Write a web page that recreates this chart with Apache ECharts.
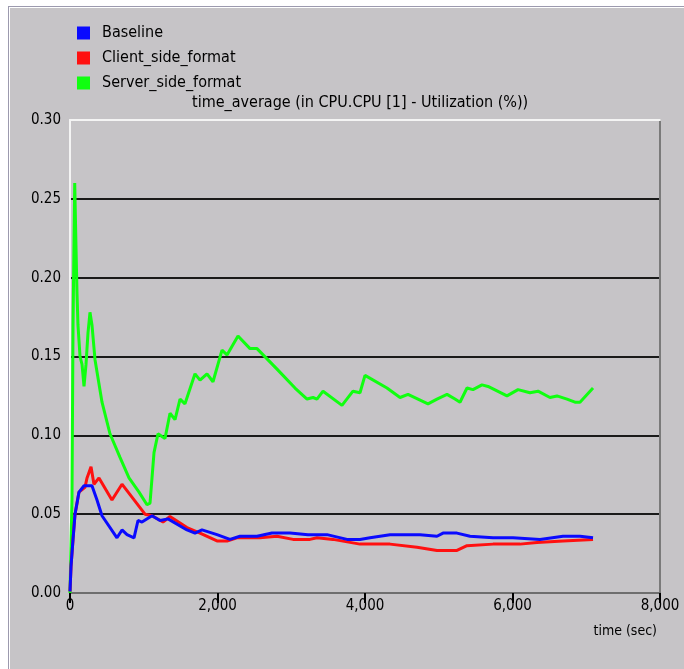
<!DOCTYPE html>
<html>
<head>
<meta charset="utf-8">
<script src="https://cdn.jsdelivr.net/npm/echarts@6/dist/echarts.min.js"></script>
<style>
  html, body { margin: 0; padding: 0; background: #ffffff; }
  #frame {
    position: absolute; left: 8px; top: 6px; width: 676px; height: 663px;
    background: #c6c4c7;
    border-left: 1px solid #9c9aae; border-top: 1px solid #9c9aae;
    box-shadow: inset 1px 1px 0 #ffffff;
  }
  #chart { width: 675px; height: 662px; }
</style>
</head>
<body>
<div id="frame"><div id="chart"></div></div>
<script>
// tick labels / axis ranges
var yTicks = [0, 0.05, 0.10, 0.15, 0.20, 0.25, 0.30];
var xTicks = [0, 2000, 4000, 6000, 8000];

// series names
var seriesNames = ["Baseline", "Client_side_format", "Server_side_format"];

// Baseline
var baselineTime = [0, 14, 41, 68, 122, 190, 298, 366, 434, 637, 705, 773, 868, 922, 976, 1112, 1220, 1329, 1586, 1695, 1790, 1993, 2169, 2305, 2536, 2739, 2983, 3227, 3485, 3756, 3932, 4068, 4339, 4746, 4976, 5058, 5247, 5424, 5736, 6007, 6373, 6685, 6915, 7092];
var baselineValue = [0.001, 0.017, 0.034, 0.050, 0.064, 0.068, 0.068, 0.059, 0.049, 0.035, 0.040, 0.037, 0.035, 0.046, 0.045, 0.049, 0.046, 0.047, 0.040, 0.038, 0.040, 0.037, 0.034, 0.036, 0.036, 0.038, 0.038, 0.037, 0.037, 0.034, 0.034, 0.035, 0.037, 0.037, 0.036, 0.038, 0.038, 0.036, 0.035, 0.035, 0.034, 0.036, 0.036, 0.035];

// Client_side_format
var clientTime = [0, 14, 41, 68, 122, 203, 231, 285, 325, 393, 569, 705, 1017, 1112, 1261, 1356, 1586, 1763, 1993, 2129, 2264, 2576, 2807, 3024, 3254, 3349, 3566, 3932, 4339, 4705, 4976, 5112, 5247, 5383, 5736, 6102, 6332, 6685, 7092];
var clientValue = [0.001, 0.017, 0.034, 0.050, 0.064, 0.067, 0.073, 0.080, 0.069, 0.073, 0.059, 0.069, 0.050, 0.049, 0.045, 0.0485, 0.0415, 0.038, 0.033, 0.033, 0.035, 0.035, 0.036, 0.034, 0.034, 0.035, 0.034, 0.031, 0.031, 0.029, 0.027, 0.027, 0.027, 0.030, 0.031, 0.031, 0.032, 0.033, 0.034];

// Server_side_format
var serverTime = [0, 27, 41, 64, 81, 95, 108, 136, 163, 190, 217, 244, 271, 298, 339, 434, 542, 678, 800, 936, 1044, 1085, 1139, 1193, 1288, 1356, 1424, 1492, 1559, 1695, 1763, 1858, 1939, 2061, 2129, 2278, 2441, 2536, 2807, 3051, 3214, 3295, 3349, 3431, 3688, 3837, 3932, 4000, 4298, 4475, 4583, 4854, 4976, 5112, 5220, 5288, 5383, 5464, 5586, 5668, 5925, 6075, 6237, 6346, 6508, 6603, 6739, 6847, 6915, 7092];
var serverValue = [0.000, 0.060, 0.170, 0.260, 0.220, 0.190, 0.170, 0.150, 0.145, 0.131, 0.145, 0.165, 0.178, 0.170, 0.148, 0.121, 0.101, 0.086, 0.073, 0.064, 0.056, 0.057, 0.089, 0.101, 0.098, 0.114, 0.110, 0.123, 0.120, 0.139, 0.135, 0.139, 0.134, 0.154, 0.151, 0.163, 0.155, 0.155, 0.142, 0.130, 0.123, 0.124, 0.123, 0.128, 0.119, 0.128, 0.127, 0.138, 0.130, 0.124, 0.126, 0.120, 0.123, 0.126, 0.123, 0.121, 0.130, 0.129, 0.132, 0.131, 0.125, 0.129, 0.127, 0.128, 0.124, 0.125, 0.123, 0.121, 0.121, 0.130];

var colors = ["#0a0aff", "#ff1010", "#10ff10"];

function pairs(ts, vs) {
  return ts.map(function (t, i) { return [t, vs[i]]; });
}

var FONT = "'Liberation Sans Narrow', 'DejaVu Sans Condensed', 'Liberation Sans', sans-serif";

var myChart = echarts.init(document.getElementById("chart"));

var option = {
  animation: false,
  textStyle: { fontFamily: FONT },
  title: [
    {
      text: "time_average (in CPU.CPU [1] - Utilization (%))",
      left: 178, top: 83,
      textStyle: { fontSize: 16, fontWeight: "normal", color: "#000", fontFamily: FONT }
    },
    {
      text: "time (sec)",
      right: 22, top: 612,
      textStyle: { fontSize: 14, fontWeight: "normal", color: "#000", fontFamily: FONT }
    }
  ],
  legend: {
    orient: "vertical",
    left: 63, top: 13,
    itemWidth: 13, itemHeight: 13, itemGap: 9,
    icon: "rect",
    data: seriesNames,
    textStyle: { fontSize: 16, color: "#000", fontFamily: FONT, padding: [0, 0, 0, 7] }
  },
  grid: { left: 61, right: 24, top: 113, bottom: 76, containLabel: false },
  xAxis: [
    {
      type: "value", min: 0, max: 8000, interval: 2000,
      axisLine: { show: true, onZero: false, lineStyle: { color: "#6e6e6e", width: 2 } },
      axisTick: { show: true, length: 10, lineStyle: { color: "#000", width: 2 } },
      axisLabel: {
        margin: 6, fontSize: 15, color: "#000", fontFamily: FONT,
        formatter: function (v) { return v.toLocaleString("en-US"); }
      },
      splitLine: { show: false }
    },
    {
      type: "value", position: "top", min: 0, max: 8000, interval: 2000,
      axisLine: { show: true, onZero: false, lineStyle: { color: "#f4f4f4", width: 2 } },
      axisTick: { show: false }, axisLabel: { show: false }, splitLine: { show: false }
    }
  ],
  yAxis: [
    {
      type: "value", min: 0, max: 0.30, interval: 0.05,
      axisLine: { show: true, onZero: false, lineStyle: { color: "#f4f4f4", width: 2 } },
      axisTick: { show: false },
      axisLabel: {
        margin: 9, fontSize: 15, color: "#000", fontFamily: FONT,
        formatter: function (v) { return v.toFixed(2); }
      },
      splitLine: {
        show: true, showMinLine: false, showMaxLine: false,
        lineStyle: { color: "#1a1a1a", width: 2 }
      }
    },
    {
      type: "value", position: "right", min: 0, max: 0.30, interval: 0.05,
      axisLine: { show: true, onZero: false, lineStyle: { color: "#7a7a7a", width: 2 } },
      axisTick: { show: false }, axisLabel: { show: false }, splitLine: { show: false }
    }
  ],
  // drawn green first so blue ends on top
  series: [
    {
      name: seriesNames[2], type: "line", data: pairs(serverTime, serverValue),
      showSymbol: false, lineStyle: { width: 3, color: colors[2] }, itemStyle: { color: colors[2] }
    },
    {
      name: seriesNames[1], type: "line", data: pairs(clientTime, clientValue),
      showSymbol: false, lineStyle: { width: 3, color: colors[1] }, itemStyle: { color: colors[1] }
    },
    {
      name: seriesNames[0], type: "line", data: pairs(baselineTime, baselineValue),
      showSymbol: false, lineStyle: { width: 3, color: colors[0] }, itemStyle: { color: colors[0] }
    }
  ]
};

myChart.setOption(option);
</script>
</body>
</html>
